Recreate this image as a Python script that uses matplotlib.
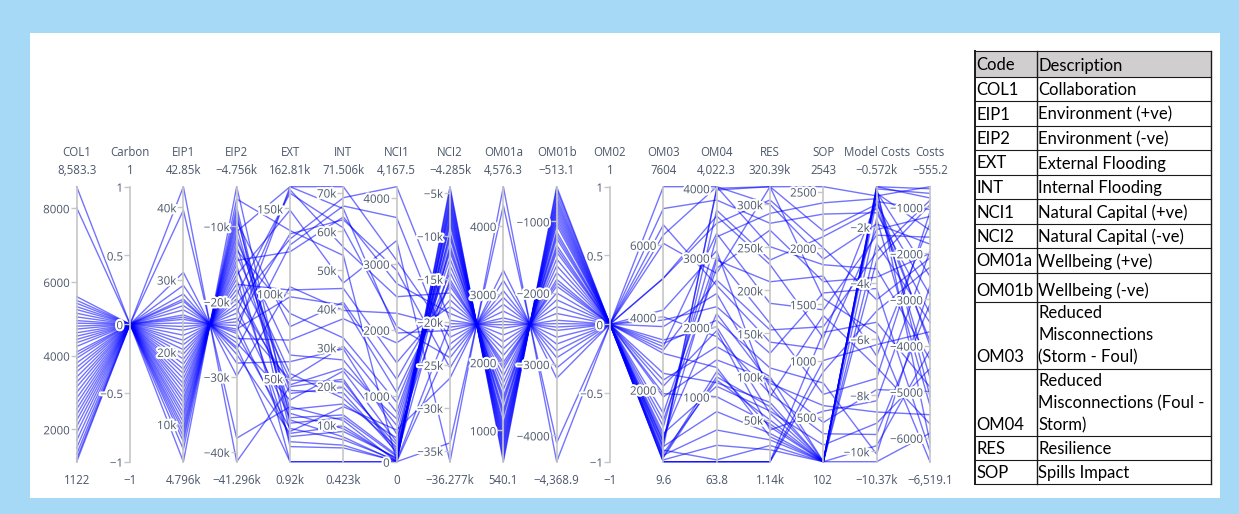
import matplotlib
matplotlib.use("Agg")
import matplotlib.pyplot as plt
import matplotlib.patheffects as pe
from matplotlib.patches import Rectangle

W, H = 1239, 514

dims = ['COL1', 'Carbon', 'EIP1', 'EIP2', 'EXT', 'INT', 'NCI1', 'NCI2', 'OM01a',
        'OM01b', 'OM02', 'OM03', 'OM04', 'RES', 'SOP', 'Model Costs', 'Costs']

# one value per option (40 options)
col1 = [8583.3, 8010, 5600, 5500, 5420, 5330, 5250, 5150, 5050, 4950,
        4880, 4800, 4720, 4620, 4530, 4440, 4350, 4250, 4100, 4020,
        3930, 3800, 3680, 3560, 3420, 3280, 3150, 3000, 2850, 2700,
        2550, 2400, 2250, 2080, 1900, 1700, 1500, 1330, 1200, 1122]
carbon = [0, 0, 0, 0, 0, 0, 0, 0, 0, 0, 0, 0, 0, 0, 0, 0, 0, 0, 0, 0,
          0, 0, 0, 0, 0, 0, 0, 0, 0, 0, 0, 0, 0, 0, 0, 0, 0, 0, 0, 0]
eip1 = [42850, 39600, 31000, 29200, 28000, 27300, 27000, 26400, 25800, 25100,
        24800, 24500, 24000, 23500, 23000, 22300, 21600, 21000, 20300, 19700,
        19000, 18300, 17600, 17000, 16300, 15600, 15000, 14300, 13600, 13000,
        12300, 11600, 11000, 10300, 9600, 9000, 8300, 7600, 6500, 4796]
eip2 = [-41296, -38175, -29917, -28189, -27037, -26364, -26076, -25500, -24924, -24252,
        -23964, -23676, -23196, -22716, -22236, -21563, -20891, -20315, -19643, -19067,
        -18395, -17723, -17050, -16474, -15802, -15130, -14554, -13882, -13210, -12634,
        -11961, -11289, -10713, -10041, -9369, -8793, -8121, -7448, -6392, -4756]
ext = [45100, 33300, 103900, 59800, 17600, 128500, 920, 37200, 72500, 20500,
       162810, 98000, 15700, 135000, 49000, 161000, 26800, 132000, 46200, 159000,
       41100, 102000, 12700, 149000, 49500, 920, 124500, 52900, 88200, 29400,
       63700, 42900, 162810, 23600, 80400, 31700, 9800, 18700, 137000, 25500]
int_ = [21750, 11080, 39520, 29570, 9660, 66530, 423, 23880, 37380, 6110,
        71506, 40940, 8240, 62980, 21040, 55870, 12510, 68660, 24590, 60840,
        19620, 45210, 4690, 46630, 30280, 423, 63690, 16770, 32410, 8950,
        26720, 18200, 65820, 11800, 41650, 15350, 3980, 14640, 53730, 6820]
nci1 = [120, 0, 2250, 420, 30, 3700, 0, 300, 1800, 20,
        3050, 1050, 60, 2900, 180, 2500, 100, 4167.5, 650, 2050,
        260, 1500, 0, 3350, 750, 0, 2700, 220, 900, 45,
        550, 150, 1950, 80, 1250, 360, 10, 480, 0, 0]
nci2 = [-7930, -5552, -20613, -9912, -5078, -23387, -4285, -8723, -18234, -4602,
        -21801, -15460, -6345, -25368, -9515, -16649, -6742, -19820, -11893, -24178,
        -7137, -17442, -5949, -36277, -12686, -7534, -19027, -10308, -14271, -8326,
        -11497, -11100, -21008, -13478, -15856, -15064, -20216, -26557, -34087, -22594]
om01a = [1000, 700, 2600, 1250, 640, 2950, 540.1, 1100, 2300, 580,
         2750, 1950, 800, 3200, 1200, 2100, 850, 2500, 1500, 3050,
         900, 2200, 750, 4576.3, 1600, 950, 2400, 1300, 1800, 1050,
         1450, 1400, 2650, 1700, 2000, 1900, 2550, 3350, 4300, 2850]
om01b = [-952, -666, -2481, -1191, -609, -2815, -513.1, -1048, -2194, -551,
         -2624, -1860, -761, -3054, -1143, -2003, -809, -2385, -1430, -2911,
         -857, -2099, -714, -4368.9, -1526, -905, -2290, -1239, -1717, -1000,
         -1382, -1334, -2529, -1621, -1908, -1812, -2433, -3198, -4105, -2720]
om02 = [0, 0, 0, 0, 0, 0, 0, 0, 0, 0, 0, 0, 0, 0, 0, 0, 0, 0, 0, 0,
        0, 0, 0, 0, 0, 0, 0, 0, 0, 0, 0, 0, 0, 0, 0, 0, 0, 0, 0, 0]
om03 = [520, 3740, 7604, 240, 1345, 6040, 9.6, 430, 3185, 120,
        5075, 700, 190, 7000, 2265, 400, 3370, 6550, 975, 150,
        610, 4010, 330, 6270, 1800, 9.6, 3090, 560, 790, 60,
        3920, 1150, 5075, 2450, 3275, 1890, 9.6, 2100, 4200, 3000]
om04 = [3975, 2485, 4022.3, 1240, 3010, 2775, 63.8, 785, 3350, 1285,
        3495, 2195, 520, 3830, 1720, 4000, 2005, 2600, 3300, 1360,
        2965, 1865, 90, 4022.3, 1530, 63.8, 2680, 3685, 1150, 300,
        2295, 2850, 3600, 1200, 2100, 1000, 63.8, 1950, 3100, 1420]
res = [320390, 88300, 250800, 49700, 161700, 320390, 1140, 34000, 185000, 65000,
       305000, 92100, 26400, 277900, 100000, 320390, 57300, 140000, 289400, 41700,
       210000, 80300, 20000, 300000, 95900, 1140, 154100, 235200, 60000, 15000,
       126900, 270000, 230000, 70000, 110000, 45000, 1140, 38000, 76500, 30200]
sop = [2150, 102, 1850, 102, 700, 2543, 1000, 102, 1450, 102,
       2000, 600, 102, 2300, 102, 1550, 102, 1100, 2400, 102,
       1750, 350, 102, 1900, 450, 900, 1300, 2100, 250, 102,
       1600, 1700, 1200, 102, 800, 102, 1250, 550, 1400, 102]
model_costs = [-1200, -572, -3500, -700, -7400, -900, -6200, -600, -2300, -1050,
               -4600, -8600, -572, -1500, -3200, -5800, -750, -2100, -1000, -10370,
               -6600, -9400, -650, -1900, -7800, -5000, -2900, -1350, -9000, -800,
               -4200, -3800, -1100, -1700, -10100, -2600, -5400, -8200, -7000, -9800]
costs = [-2900, -800, -4300, -5100, -1100, -555.2, -3700, -6100, -1650, -4700,
         -2100, -5500, -600, -3300, -950, -6519.1, -2500, -1200, -4000, -5900,
         -1350, -3100, -700, -1800, -5000, -2300, -850, -3900, -4500, -1500,
         -6300, -2000, -1050, -5300, -2700, -3500, -4900, -1950, -5700, -4100]

range_min = [1122, -1, 4796, -41296, 920, 423, 0, -36277, 540.1, -4368.9,
             -1, 9.6, 63.8, 1140, 102, -10370, -6519.1]
range_max = [8583.3, 1, 42850, -4756, 162810, 71506, 4167.5, -4285, 4576.3, -513.1,
             1, 7604, 4022.3, 320390, 2543, -572, -555.2]
top_labels = ['8,583.3', '1', '42.85k', '\u22124.756k', '162.81k', '71.506k', '4,167.5',
              '\u22124.285k', '4,576.3', '\u2212513.1', '1', '7604', '4,022.3', '320.39k',
              '2543', '\u22120.572k', '\u2212555.2']
bottom_labels = ['1122', '\u22121', '4.796k', '\u221241.296k', '0.92k', '0.423k', '0',
                 '\u221236.277k', '540.1', '\u22124,368.9', '\u22121', '9.6', '63.8', '1.14k',
                 '102', '\u221210.37k', '\u22126,519.1']

tick_vals = [
    [2000, 4000, 6000, 8000],
    [-1, -0.5, 0, 0.5, 1],
    [10000, 20000, 30000, 40000],
    [-40000, -30000, -20000, -10000],
    [50000, 100000, 150000],
    [10000, 20000, 30000, 40000, 50000, 60000, 70000],
    [0, 1000, 2000, 3000, 4000],
    [-35000, -30000, -25000, -20000, -15000, -10000, -5000],
    [1000, 2000, 3000, 4000],
    [-4000, -3000, -2000, -1000],
    [-1, -0.5, 0, 0.5, 1],
    [2000, 4000, 6000],
    [1000, 2000, 3000, 4000],
    [50000, 100000, 150000, 200000, 250000, 300000],
    [500, 1000, 1500, 2000, 2500],
    [-10000, -8000, -6000, -4000, -2000],
    [-6000, -5000, -4000, -3000, -2000, -1000],
]
M = '\u2212'
tick_text = [
    ['2000', '4000', '6000', '8000'],
    [M + '1', M + '0.5', '0', '0.5', '1'],
    ['10k', '20k', '30k', '40k'],
    [M + '40k', M + '30k', M + '20k', M + '10k'],
    ['50k', '100k', '150k'],
    ['10k', '20k', '30k', '40k', '50k', '60k', '70k'],
    ['0', '1000', '2000', '3000', '4000'],
    [M + '35k', M + '30k', M + '25k', M + '20k', M + '15k', M + '10k', M + '5k'],
    ['1000', '2000', '3000', '4000'],
    [M + '4000', M + '3000', M + '2000', M + '1000'],
    [M + '1', M + '0.5', '0', '0.5', '1'],
    ['2000', '4000', '6000'],
    ['1000', '2000', '3000', '4000'],
    ['50k', '100k', '150k', '200k', '250k', '300k'],
    ['500', '1000', '1500', '2000', '2500'],
    [M + '10k', M + '8k', M + '6k', M + '4k', M + '2k'],
    [M + '6000', M + '5000', M + '4000', M + '3000', M + '2000', M + '1000'],
]

codes = ['COL1', 'EIP1', 'EIP2', 'EXT', 'INT', 'NCI1', 'NCI2', 'OM01a', 'OM01b',
         'OM03', 'OM04', 'RES', 'SOP']
descriptions = ['Collaboration', 'Environment (+ve)', 'Environment (-ve)',
                'External Flooding', 'Internal Flooding', 'Natural Capital (+ve)',
                'Natural Capital (-ve)', 'Wellbeing (+ve)', 'Wellbeing (-ve)',
                'Reduced\nMisconnections\n(Storm - Foul)',
                'Reduced\nMisconnections (Foul -\nStorm)',
                'Resilience', 'Spills Impact']

columns = [col1, carbon, eip1, eip2, ext, int_, nci1, nci2, om01a, om01b, om02,
           om03, om04, res, sop, model_costs, costs]

pfont = ['Open Sans', 'DejaVu Sans']
txt_col = '#4a566a'
ax_col = '#c6c6c6'

fig = plt.figure(figsize=(W / 100, H / 100), dpi=100, facecolor='#a5d9f5')

# background: white panel + legend table, in pixel coords
bg = fig.add_axes([0, 0, 1, 1])
bg.set_xlim(0, W)
bg.set_ylim(H, 0)
bg.axis('off')
bg.add_patch(Rectangle((30, 33), 1190, 465, facecolor='white', edgecolor='none'))

tx0, tx1, tx2 = 974.5, 1036.5, 1210.5
row_edges = [51, 76.5, 101, 125.5, 150, 174.5, 199, 223.5, 248, 272.5, 301.5, 368.5, 436, 460, 484]
bg.add_patch(Rectangle((tx0, row_edges[0]), tx2 - tx0, row_edges[1] - row_edges[0],
                       facecolor='#d0cece', edgecolor='none'))
for y in row_edges:
    bg.plot([tx0, tx2], [y, y], color='#1a1a1a', lw=0.8)
for x in (tx0, tx1, tx2):
    bg.plot([x, x], [row_edges[0], row_edges[-1]], color='#1a1a1a', lw=1.0 if x != tx0 else 1.4)
tfont = ['Lato', 'DejaVu Sans']
tsize = 12
bg.text(tx0 + 2, row_edges[1] - 11, 'Code', family=tfont, fontsize=tsize, va='center', color='black')
bg.text(tx1 + 2, row_edges[1] - 11, 'Description', family=tfont, fontsize=tsize, va='center', color='black')
for k, (c, d) in enumerate(zip(codes, descriptions)):
    yb = row_edges[k + 2]
    bg.text(tx0 + 2, yb - 11, c, family=tfont, fontsize=tsize, va='center', color='black')
    parts = d.split('\n')
    for m, p in enumerate(reversed(parts)):
        bg.text(tx1 + 2, yb - 11 - 22 * m, p, family=tfont, fontsize=tsize, va='center', color='black')

# parallel coordinates
x0, dx = 76.7, 53.33
top_px, bot_px = 186.7, 461.7
n = len(dims)
ax = fig.add_axes([x0 / W, (H - bot_px) / H, dx * (n - 1) / W, (bot_px - top_px) / H])
ax.set_xlim(0, n - 1)
ax.set_ylim(0, 1)
ax.axis('off')
ax.patch.set_visible(False)
for j in range(len(col1)):
    ys = [(columns[d][j] - range_min[d]) / (range_max[d] - range_min[d]) for d in range(n)]
    ax.plot(range(n), ys, color=(0.0, 0.0, 1.0), alpha=0.55, lw=1.0, clip_on=False)

halo = [pe.withStroke(linewidth=3, foreground='white')]
for d in range(n):
    xp = x0 + d * dx
    a = fig.add_axes([xp / W, (H - bot_px) / H, 0.00001, (bot_px - top_px) / H])
    a.patch.set_visible(False)
    a.set_ylim(range_min[d], range_max[d])
    for s in ('top', 'right', 'bottom'):
        a.spines[s].set_visible(False)
    a.spines['left'].set_color(ax_col)
    a.spines['left'].set_linewidth(1.2)
    a.set_xticks([])
    a.set_yticks(tick_vals[d])
    a.set_yticklabels(tick_text[d], family=pfont)
    a.tick_params(axis='y', direction='out', length=4, width=1, color=ax_col,
                  labelsize=8.3, labelcolor=txt_col, pad=1)
    for t in a.get_yticklabels():
        t.set_path_effects(halo)
    fig.text(xp / W, 1 - 152.7 / H, dims[d], ha='center', va='center',
             family=pfont, fontsize=8.3, color=txt_col)
    fig.text(xp / W, 1 - 171 / H, top_labels[d], ha='center', va='center',
             family=pfont, fontsize=8.3, color=txt_col)
    fig.text(xp / W, 1 - 480 / H, bottom_labels[d], ha='center', va='center',
             family=pfont, fontsize=8.3, color=txt_col)

fig.savefig('out.png', dpi=100, facecolor=fig.get_facecolor())
